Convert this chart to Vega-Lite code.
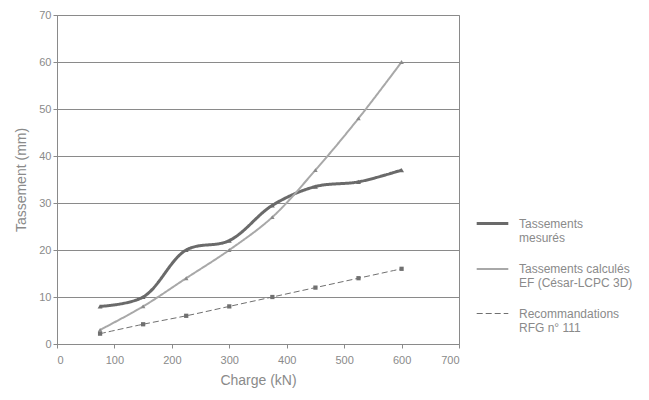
{
  "$schema": "https://vega.github.io/schema/vega-lite/v6.json",
  "autosize": "none",
  "width": 402,
  "height": 329,
  "padding": {"left": 57, "top": 15, "right": 190, "bottom": 56},
  "background": "white",
  "config": {
    "font": "Liberation Sans",
    "view": {"stroke": "#8a8a8a", "strokeWidth": 1},
    "axis": {"labelColor": "#8a8a8a", "titleColor": "#8a8a8a", "labelFontSize": 11, "titleFontSize": 14, "titleFontWeight": "normal", "domainColor": "#8a8a8a", "tickColor": "#8a8a8a", "gridColor": "#8a8a8a", "gridWidth": 1}
  },
  "data": {
    "values": [
      {"charge": 75, "t": 8, "s": "Tassements mesurés"},
      {"charge": 150, "t": 10, "s": "Tassements mesurés"},
      {"charge": 225, "t": 20, "s": "Tassements mesurés"},
      {"charge": 300, "t": 22, "s": "Tassements mesurés"},
      {"charge": 375, "t": 29.5, "s": "Tassements mesurés"},
      {"charge": 450, "t": 33.5, "s": "Tassements mesurés"},
      {"charge": 525, "t": 34.5, "s": "Tassements mesurés"},
      {"charge": 600, "t": 37, "s": "Tassements mesurés"},
      {"charge": 75, "t": 3, "s": "Tassements calculés EF (César-LCPC 3D)"},
      {"charge": 150, "t": 8, "s": "Tassements calculés EF (César-LCPC 3D)"},
      {"charge": 225, "t": 14, "s": "Tassements calculés EF (César-LCPC 3D)"},
      {"charge": 300, "t": 20, "s": "Tassements calculés EF (César-LCPC 3D)"},
      {"charge": 375, "t": 27, "s": "Tassements calculés EF (César-LCPC 3D)"},
      {"charge": 450, "t": 37, "s": "Tassements calculés EF (César-LCPC 3D)"},
      {"charge": 525, "t": 48, "s": "Tassements calculés EF (César-LCPC 3D)"},
      {"charge": 600, "t": 60, "s": "Tassements calculés EF (César-LCPC 3D)"},
      {"charge": 75, "t": 2.2, "s": "Recommandations RFG n° 111"},
      {"charge": 150, "t": 4.2, "s": "Recommandations RFG n° 111"},
      {"charge": 225, "t": 6, "s": "Recommandations RFG n° 111"},
      {"charge": 300, "t": 8, "s": "Recommandations RFG n° 111"},
      {"charge": 375, "t": 10, "s": "Recommandations RFG n° 111"},
      {"charge": 450, "t": 12, "s": "Recommandations RFG n° 111"},
      {"charge": 525, "t": 14, "s": "Recommandations RFG n° 111"},
      {"charge": 600, "t": 16, "s": "Recommandations RFG n° 111"}
    ]
  },
  "encoding": {
    "x": {"field": "charge", "type": "quantitative", "title": "Charge (kN)", "scale": {"domain": [0, 700], "nice": false}, "axis": {"values": [0,100,200,300,400,500,600,700], "grid": false, "tickSize": 4, "labelPadding": 6, "titlePadding": 8}},
    "y": {"field": "t", "type": "quantitative", "title": "Tassement (mm)", "scale": {"domain": [0, 70], "nice": false}, "axis": {"values": [0,10,20,30,40,50,60,70], "grid": true, "tickSize": 4, "titlePadding": 10}}
  },
  "layer": [
    {
      "mark": {"type": "line", "interpolate": "catmull-rom"},
      "encoding": {
        "color": {"field": "s", "type": "nominal", "scale": {"domain": ["Tassements mesurés", "Tassements calculés EF (César-LCPC 3D)", "Recommandations RFG n° 111"], "range": ["#6a6a6a", "#a8a8a8", "#707070"]},
          "legend": {"title": null, "orient": "none", "legendX": 418, "legendY": 191, "symbolType": "stroke", "symbolSize": 1000, "labelFontSize": 12, "labelColor": "#8a8a8a", "rowPadding": 8, "labelOffset": 9, "labelExpr": "datum.label == 'Tassements mesurés' ? ['Tassements', 'mesurés'] : datum.label == 'Recommandations RFG n° 111' ? ['Recommandations', 'RFG n° 111'] : ['Tassements calculés', 'EF (César-LCPC 3D)']", "labelLimit": 200}},
        "strokeDash": {"field": "s", "type": "nominal", "scale": {"domain": ["Tassements mesurés", "Tassements calculés EF (César-LCPC 3D)", "Recommandations RFG n° 111"], "range": [[1, 0], [1, 0], [6, 3]]}, "legend": null},
        "strokeWidth": {"field": "s", "type": "nominal", "scale": {"domain": ["Tassements mesurés", "Tassements calculés EF (César-LCPC 3D)", "Recommandations RFG n° 111"], "range": [3, 1, 1.6]}, "legend": null}
      }
    },
    {
      "transform": [{"filter": "datum.s == 'Tassements mesurés'"}],
      "mark": {"type": "point", "filled": true, "size": 24, "opacity": 1, "shape": "triangle-up", "color": "#6a6a6a"}
    },
    {
      "transform": [{"filter": "datum.s == 'Tassements calculés EF (César-LCPC 3D)'"}],
      "mark": {"type": "point", "filled": true, "size": 20, "opacity": 1, "shape": "triangle-up", "color": "#8a8a8a"}
    },
    {
      "transform": [{"filter": "datum.s == 'Recommandations RFG n° 111'"}],
      "mark": {"type": "point", "filled": true, "size": 18, "opacity": 1, "shape": "square", "color": "#707070"}
    }
  ]
}
